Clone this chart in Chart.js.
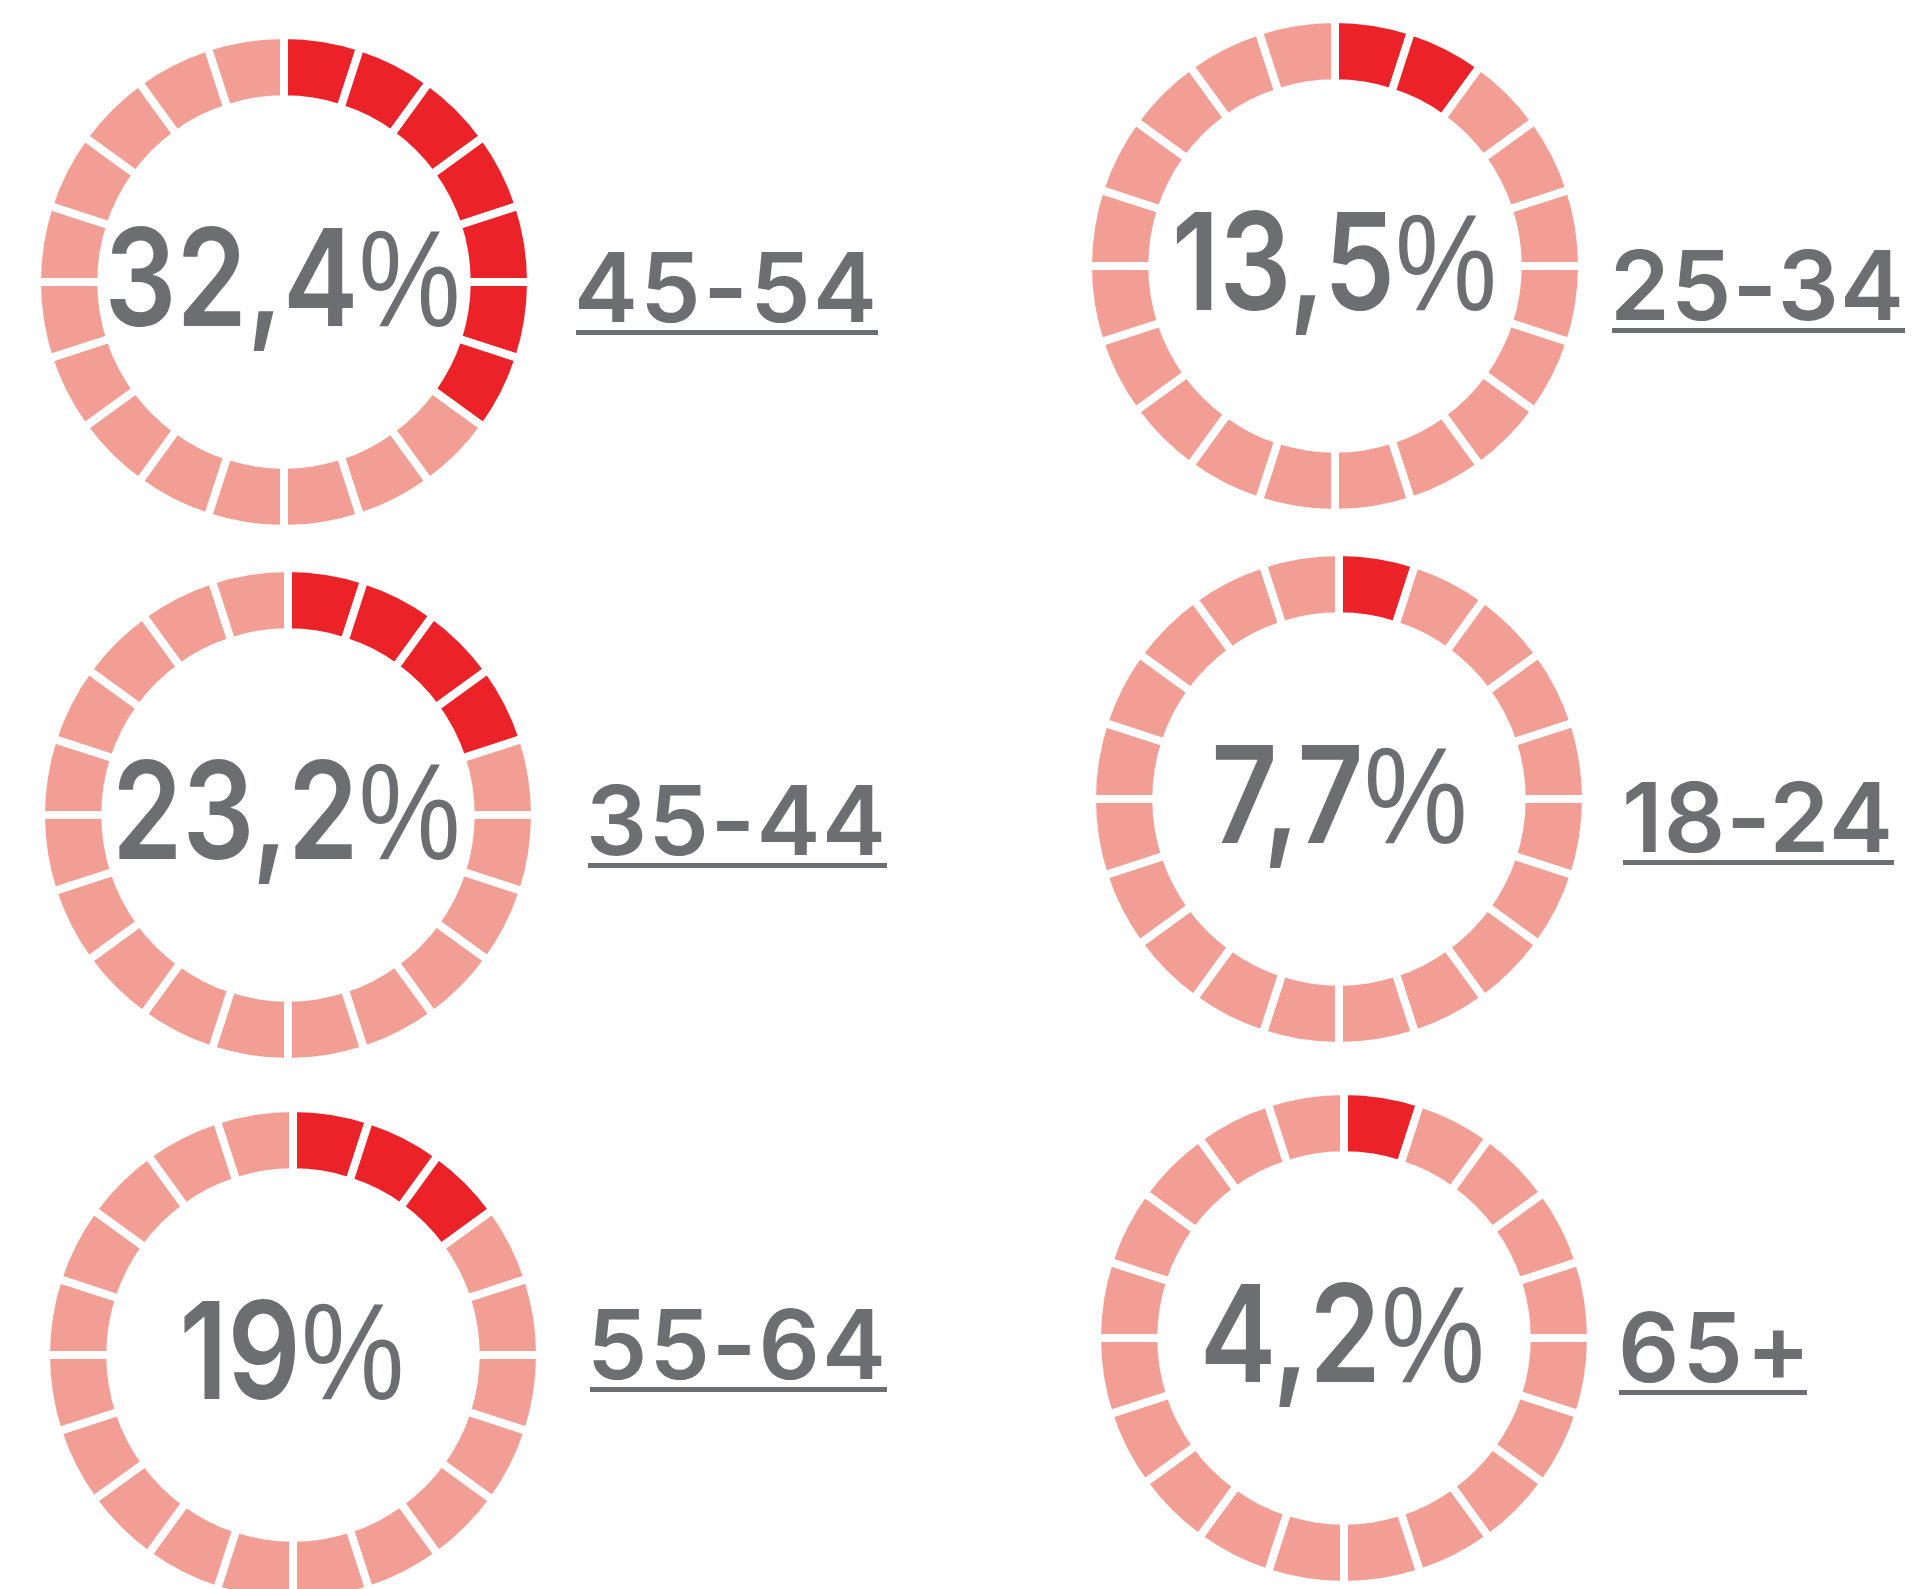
<!DOCTYPE html>
<html>
<head>
<meta charset="utf-8">
<script src="https://cdn.jsdelivr.net/npm/chart.js@4/dist/chart.umd.min.js"></script>
<style>
  html, body { margin: 0; padding: 0; background: #fff; }
  body { width: 1914px; height: 1589px; position: relative; overflow: hidden; }
  .ring { position: absolute; width: 500px; height: 500px; }
  .txt { position: absolute; white-space: nowrap; color: #6d6e71; line-height: 1; }
  .mark { display: inline-block; width: 0; height: 0; }
  .rule { position: absolute; height: 5px; background: #6d6e71; }
</style>
</head>
<body>
<script>
  // values
  const ageGroups = ["45-54", "25-34", "35-44", "18-24", "55-64", "65+"];
  const shareLabels = ["32,4%", "13,5%", "23,2%", "7,7%", "19%", "4,2%"];
  const filledSegments = [7, 2, 4, 1, 3, 1];
  const totalSegments = 20;

  // layout: ring centres, age label ink left + baseline, ink widths
  const centres = [[283.5, 282], [1335, 265.5], [287.5, 815], [1339, 799], [292.5, 1355], [1343.5, 1338]];
  const labelPos = [[579, 322], [1615, 320], [591, 855], [1626, 852], [593, 1379], [1622, 1382]];
  const shareWidth = [346, 316, 338, 248, 216, 275];
  const ageWidth = [294, 285, 291, 263, 289, 180];

  const RED = "#ec2229", PALE = "#f39e94";
  const SHARE_FONT = '600 135px Inter, "Noto Sans", sans-serif';
  const PCT_FONT = '400 137px "Liberation Sans", Arial, sans-serif';
  const AGE_FONT = '600 96px Inter, "Noto Sans", sans-serif';

  const meas = document.createElement("canvas").getContext("2d");
  function ink(font, text) {
    meas.font = font;
    const m = meas.measureText(text);
    return { l: -m.actualBoundingBoxLeft, r: m.actualBoundingBoxRight, w: m.width };
  }

  // text div whose origin sits at x and whose baseline lands on y
  function addText(parts, x, baseline) {
    const el = document.createElement("div");
    el.className = "txt";
    parts.forEach(([text, font]) => {
      const s = document.createElement("span");
      s.style.font = font;
      s.style.lineHeight = "1";
      s.textContent = text;
      el.appendChild(s);
    });
    const m = document.createElement("span");
    m.className = "mark";
    el.appendChild(m);
    el.style.left = x + "px";
    el.style.top = "0px";
    document.body.appendChild(el);
    el.style.top = (baseline - m.offsetTop) + "px";
    return el;
  }

  ageGroups.forEach((age, i) => {
    const [cx, cy] = centres[i];
    const cv = document.createElement("canvas");
    cv.className = "ring";
    cv.width = 500; cv.height = 500;
    cv.style.left = (cx - 250) + "px";
    cv.style.top = (cy - 250) + "px";
    document.body.appendChild(cv);

    const segs = Array.from({ length: totalSegments }, () => 1);
    new Chart(cv, {
      type: "doughnut",
      data: {
        labels: segs.map((_, k) => age + " #" + (k + 1)),
        datasets: [{
          data: segs,
          backgroundColor: segs.map((_, k) => (k < filledSegments[i] ? RED : PALE)),
          borderColor: "#ffffff",
          borderWidth: 8,
          hoverOffset: 0,
        }],
      },
      options: {
        responsive: false,
        animation: false,
        radius: 247,
        cutout: 182,
        layout: { padding: 0 },
        plugins: { legend: { display: false }, tooltip: { enabled: false } },
        events: [],
      },
    });

    // percentage, centred in the ring; squeeze or spread to the read width
    const t = shareLabels[i];
    const num = t.slice(0, -1);
    const kn = ink(SHARE_FONT, num);
    const kp = ink(PCT_FONT, "%");
    const l = kn.l, r = kn.w + kp.r;
    const w0 = r - l;
    let ls = 0, sx = 1;
    if (w0 > shareWidth[i]) sx = shareWidth[i] / w0;
    else ls = (shareWidth[i] - w0) / (t.length - 1);
    const mid = (l + r + ls * (t.length - 1)) / 2;
    const pct = addText([[num, SHARE_FONT], ["%", PCT_FONT]], cx - mid, cy + 44);
    pct.style.letterSpacing = ls + "px";
    pct.style.transformOrigin = mid + "px 0";
    pct.style.transform = "scaleX(" + sx + ")";

    // age group with underline
    const a = ink(AGE_FONT, age);
    const aw = a.r - a.l;
    const [lx, ly] = labelPos[i];
    const lab = addText([[age, AGE_FONT]], lx - a.l, ly);
    if (aw > ageWidth[i]) {
      lab.style.transformOrigin = a.l + "px 0";
      lab.style.transform = "scaleX(" + ageWidth[i] / aw + ")";
    } else {
      lab.style.letterSpacing = (ageWidth[i] - aw) / (age.length - 1) + "px";
    }
    const rule = document.createElement("div");
    rule.className = "rule";
    rule.style.left = (lx - 3) + "px";
    rule.style.width = (ageWidth[i] + 8) + "px";
    rule.style.top = (ly + 8) + "px";
    document.body.appendChild(rule);
  });
</script>
</body>
</html>
